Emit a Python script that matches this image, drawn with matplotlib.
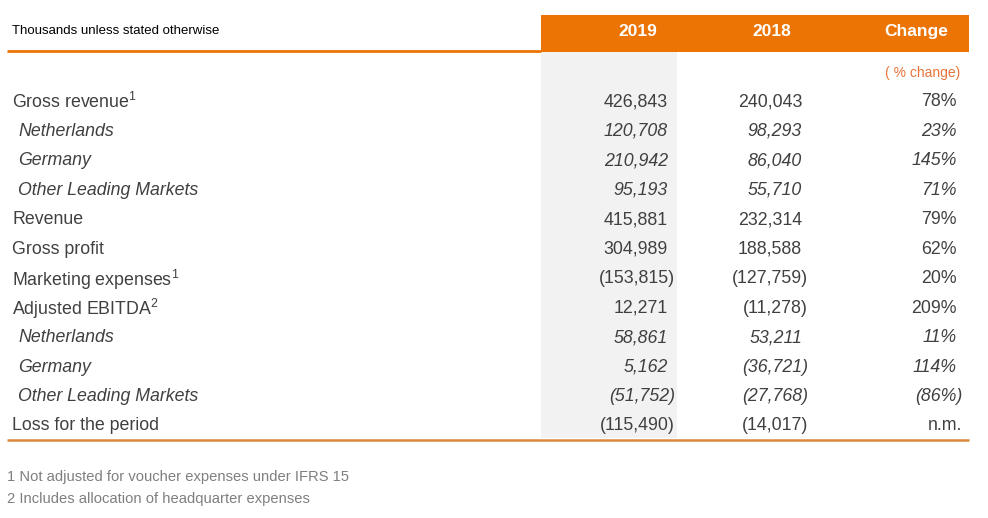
import matplotlib.pyplot as plt

plt.rcParams['font.family'] = ['Liberation Sans', 'DejaVu Sans']
plt.rcParams['mathtext.fontset'] = 'custom'
plt.rcParams['mathtext.rm'] = 'Liberation Sans'

# Datos de la tabla
etiquetas = ["Gross revenue$^{1}$", "Netherlands", "Germany", "Other Leading Markets",
             "Revenue", "Gross profit", "Marketing expenses$^{1}$", "Adjusted EBITDA$^{2}$",
             "Netherlands", "Germany", "Other Leading Markets", "Loss for the period"]
valores_2019 = [426843, 120708, 210942, 95193, 415881, 304989, -153815, 12271,
                58861, 5162, -51752, -115490]
valores_2018 = [240043, 98293, 86040, 55710, 232314, 188588, -127759, -11278,
                53211, -36721, -27768, -14017]
cambio = ["78%", "23%", "145%", "71%", "79%", "62%", "20%", "209%",
          "11%", "114%", "(86%)", "n.m."]
es_sub = [False, True, True, True, False, False, False, False, True, True, True, False]
encabezados = ["2019", "2018", "Change"]
notas = ["1 Not adjusted for voucher expenses under IFRS 15",
         "2 Includes allocation of headquarter expenses"]

naranja = '#EC7405'
gris_txt = '#404040'


def fmt(v):
    s = f"{abs(v):,}"
    return f"({s})" if v < 0 else s


fig = plt.figure(figsize=(9.88, 5.18), dpi=100)
ax = fig.add_axes([0, 0, 1, 1])
ax.set_xlim(0, 988)
ax.set_ylim(518, 0)
ax.axis('off')

# Encabezado
ax.add_patch(plt.Rectangle((541, 15), 428, 37, color=naranja, lw=0))
ax.plot([7, 541], [50.5, 50.5], color=naranja, lw=2, solid_capstyle='butt')
ax.text(12, 31, "Thousands unless stated otherwise", fontsize=9.5, color='black',
        va='center', ha='left')
for x, h in zip([638, 772, 916], encabezados):
    ax.text(x, 30, h, fontsize=12.5, fontweight='bold', color='white',
            ha='center', va='center_baseline')

# Columna gris de 2019
ax.add_patch(plt.Rectangle((541, 52), 136, 386, color='#F2F2F2', lw=0))

ax.text(960, 73, "( % change)", fontsize=10, color='#E8733A', ha='right', va='center')

# Filas
y0, dy = 100, 29.45
for i, (lab, v19, v18, ch, sub) in enumerate(zip(etiquetas, valores_2019, valores_2018,
                                                 cambio, es_sub)):
    y = y0 + i * dy
    estilo = 'italic' if sub else 'normal'
    ax.text(18 if sub else 12, y, lab, fontsize=12.8, color=gris_txt,
            style=estilo, ha='left', va='center_baseline')
    ax.text(675 if v19 < 0 else 668, y, fmt(v19), fontsize=12.8, color=gris_txt,
            style=estilo, ha='right', va='center_baseline')
    ax.text(808 if v18 < 0 else 802, y, fmt(v18), fontsize=12.8, color=gris_txt,
            style=estilo, ha='right', va='center_baseline')
    xc = 962 if ch.startswith('(') or ch == 'n.m.' else 957
    ax.text(xc, y, ch, fontsize=12.8, color=gris_txt, style=estilo,
            ha='right', va='center_baseline')

ax.plot([7, 969], [440, 440], color='#D9893A', lw=1.8, solid_capstyle='butt')

# Notas al pie
for j, n in enumerate(notas):
    ax.text(7, 477 + j * 22, n, fontsize=10.6, color='#7F7F7F', ha='left', va='center')

fig.savefig('out.png', dpi=100)
